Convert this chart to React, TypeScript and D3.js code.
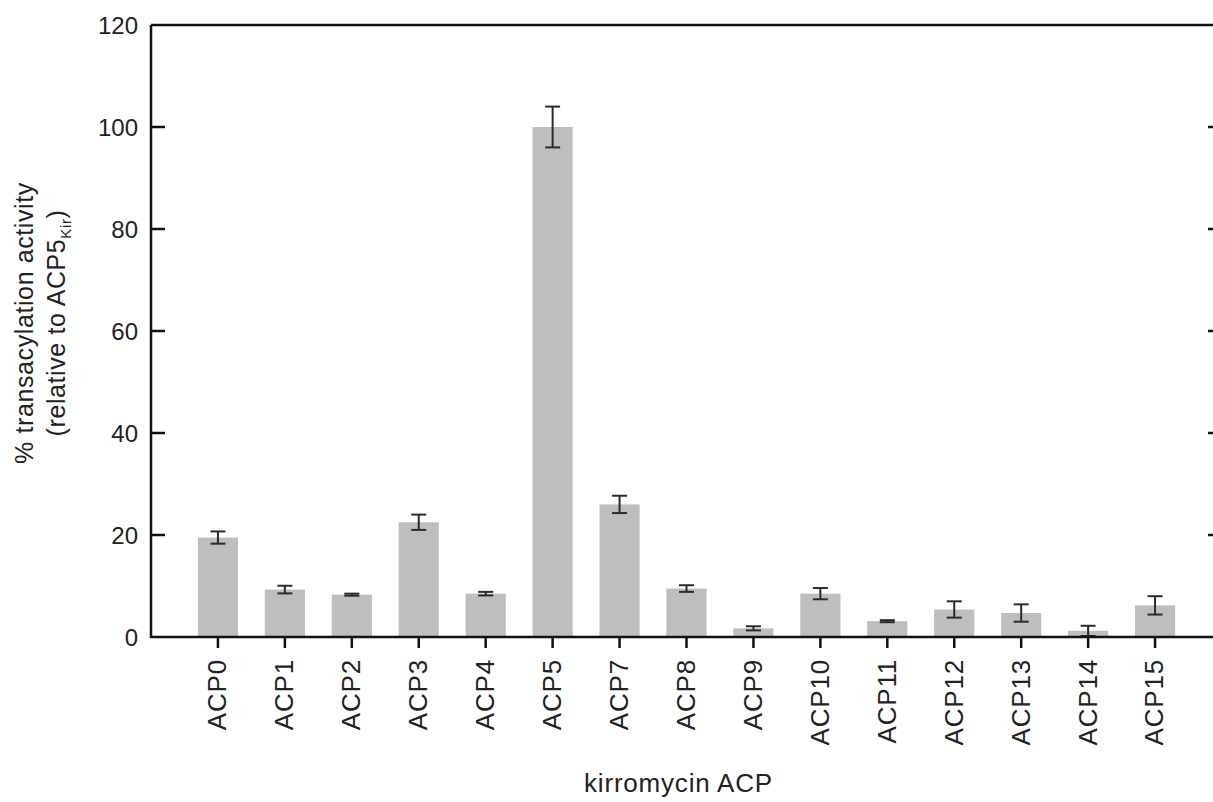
import React, { useEffect, useRef } from 'react';
import * as d3 from 'd3';

// values
const categories = ['ACP0', 'ACP1', 'ACP2', 'ACP3', 'ACP4', 'ACP5', 'ACP7', 'ACP8', 'ACP9', 'ACP10', 'ACP11', 'ACP12', 'ACP13', 'ACP14', 'ACP15'];
const activity = [19.5, 9.3, 8.3, 22.5, 8.5, 100, 26.0, 9.5, 1.7, 8.5, 3.1, 5.4, 4.7, 1.2, 6.2];
const errors = [1.2, 0.75, 0.2, 1.5, 0.35, 4.0, 1.7, 0.65, 0.4, 1.1, 0.2, 1.6, 1.7, 1.0, 1.8];
const yTicks = [0, 20, 40, 60, 80, 100, 120];

const W = 1213;
const H = 802;
const FONT = '"Liberation Sans", Arial, Helvetica, sans-serif';

const App = () => {
  const ref = useRef<SVGSVGElement>(null);

  useEffect(() => {
    const svg = d3.select(ref.current);
    svg.selectAll('*').remove();

    const left = 151, right = 1222, top = 25, bottom = 637;

    const x = d3.scaleBand<string>()
      .domain(categories)
      .range([left, right])
      .paddingInner(0.4)
      .paddingOuter(0.7);
    const y = d3.scaleLinear().domain([0, 120]).range([bottom, top]);

    // bars
    svg.append('g')
      .selectAll('rect')
      .data(categories)
      .join('rect')
      .attr('x', d => x(d)!)
      .attr('y', (d, i) => y(activity[i]))
      .attr('width', x.bandwidth())
      .attr('height', (d, i) => bottom - y(activity[i]))
      .attr('fill', '#bdbec0');

    // error bars
    const eb = svg.append('g').attr('stroke', '#2b2b2b').attr('stroke-width', 2);
    categories.forEach((c, i) => {
      const cx = x(c)! + x.bandwidth() / 2;
      const hi = y(activity[i] + errors[i]);
      const lo = y(activity[i] - errors[i]);
      eb.append('line').attr('x1', cx).attr('x2', cx).attr('y1', hi).attr('y2', lo);
      eb.append('line').attr('x1', cx - 7.5).attr('x2', cx + 7.5).attr('y1', hi).attr('y2', hi);
      eb.append('line').attr('x1', cx - 7.5).attr('x2', cx + 7.5).attr('y1', lo).attr('y2', lo);
    });

    // frame: left, top, bottom, right
    const frame = svg.append('g').attr('stroke', '#111').attr('stroke-width', 2.5).attr('fill', 'none');
    frame.append('path').attr('d', `M${left},${top}V${bottom}H${right}V${top}H${left}`);

    // y ticks (inward on both sides)
    yTicks.forEach(t => {
      if (t === 0 || t === 120) return;
      frame.append('line').attr('x1', left).attr('x2', left + 14).attr('y1', y(t)).attr('y2', y(t));
      frame.append('line').attr('x1', right).attr('x2', right - 14).attr('y1', y(t)).attr('y2', y(t));
    });

    svg.append('g')
      .selectAll('text')
      .data(yTicks)
      .join('text')
      .attr('x', left - 13)
      .attr('y', d => y(d))
      .attr('dy', '0.36em')
      .attr('text-anchor', 'end')
      .attr('font-family', FONT)
      .attr('font-size', 24)
      .attr('fill', '#222')
      .text(d => d);

    // x ticks and labels
    categories.forEach(c => {
      const cx = x(c)! + x.bandwidth() / 2;
      frame.append('line').attr('x1', cx).attr('x2', cx).attr('y1', bottom).attr('y2', bottom + 11);
      svg.append('text')
        .attr('transform', `translate(${cx - 1},${bottom + 22}) rotate(-90)`)
        .attr('dy', '0.36em')
        .attr('text-anchor', 'end')
        .attr('font-family', FONT)
        .attr('font-size', 26)
        .attr('letter-spacing', 0.8)
        .attr('fill', '#222')
        .text(c);
    });

    // axis titles
    svg.append('text')
      .attr('x', (left + right) / 2 - 8)
      .attr('y', 792)
      .attr('text-anchor', 'middle')
      .attr('font-family', FONT)
      .attr('font-size', 26)
      .attr('letter-spacing', 0.8)
      .attr('fill', '#222')
      .text('kirromycin ACP');

    const yt = svg.append('text')
      .attr('transform', `translate(0,323) rotate(-90)`)
      .attr('text-anchor', 'middle')
      .attr('font-family', FONT)
      .attr('font-size', 25)
      .attr('letter-spacing', 0.6)
      .attr('fill', '#222');
    yt.append('tspan').attr('x', 0).attr('y', 33).text('% transacylation activity');
    const l2 = yt.append('tspan').attr('x', 0).attr('y', 65);
    l2.append('tspan').text('(relative to ACP5');
    l2.append('tspan').attr('font-size', 15).attr('dy', 6).text('Kir');
    l2.append('tspan').attr('dy', -6).text(')');
  }, []);

  return (
    <svg ref={ref} width={W} height={H} style={{ position: 'absolute', left: 0, top: 0, background: '#fff' }} />
  );
};

export default App;
